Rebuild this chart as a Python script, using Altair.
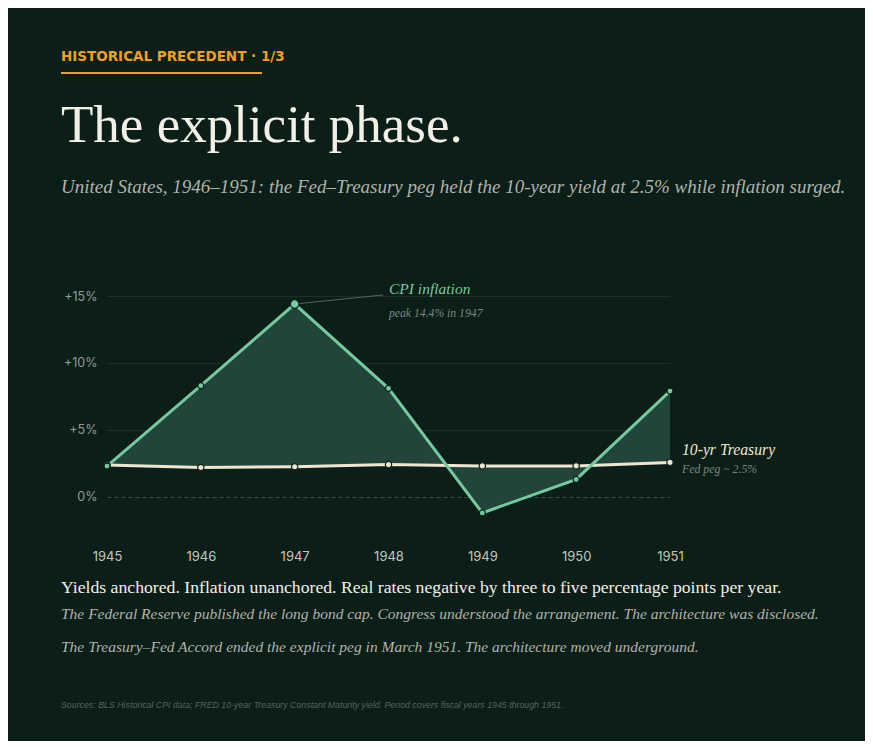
import pandas as pd
import altair as alt

# values (annual %, 1945-1951)
years = [1945, 1946, 1947, 1948, 1949, 1950, 1951]
cpi = [2.3, 8.3, 14.4, 8.1, -1.2, 1.3, 7.9]
treasury = [2.37, 2.19, 2.25, 2.41, 2.31, 2.31, 2.57]
y_ticks = [0, 5, 10, 15]

kicker = "HISTORICAL PRECEDENT · 1/3"
headline = "The explicit phase."
dek = "United States, 1946–1951: the Fed–Treasury peg held the 10-year yield at 2.5% while inflation surged."
cpi_label = ["CPI inflation", "peak 14.4% in 1947"]
tsy_label = ["10-yr Treasury", "Fed peg ~ 2.5%"]
notes = [
    "Yields anchored. Inflation unanchored. Real rates negative by three to five percentage points per year.",
    "The Federal Reserve published the long bond cap. Congress understood the arrangement. The architecture was disclosed.",
    "The Treasury–Fed Accord ended the explicit peg in March 1951. The architecture moved underground.",
]
source = ("Sources: BLS Historical CPI data; FRED 10-year Treasury Constant Maturity yield. "
          "Period covers fiscal years 1945 through 1951.")

BG = "#0b1e18"
GREEN = "#74c99e"
FILL = "#22443a"
CREAM = "#efe6d0"
SERIF = "Liberation Serif"
SANS = "Inter"

df = pd.DataFrame({"year": years, "cpi": cpi, "treasury": treasury})

x = alt.X("year:Q", scale=alt.Scale(domain=[1945, 1951], nice=False, zero=False),
          axis=alt.Axis(values=years, format="d", title=None, grid=False, ticks=False,
                        domain=False, labelFlush=False, labelBound=False, labelPadding=13,
                        labelFont=SANS, labelFontSize=13, labelColor="#c3c6bf"))
y_axis = alt.Axis(values=y_ticks, title=None, ticks=False, domain=False, labelPadding=10,
                  labelFont=SANS, labelFontSize=12.5, labelColor="#929c97",
                  labelExpr="datum.value > 0 ? '+' + datum.value + '%' : datum.value + '%'",
                  gridColor={"condition": {"test": "datum.value === 0", "value": "#3c4c46"},
                             "value": "#1c2f28"},
                  gridDash={"condition": {"test": "datum.value === 0", "value": [4, 3]},
                            "value": []})
y_scale = alt.Scale(domain=[-3, 15], nice=False, zero=False)

base = alt.Chart(df)

area = base.mark_area(color=FILL, opacity=1).encode(
    x=x, y=alt.Y("cpi:Q", scale=y_scale, axis=y_axis), y2="treasury:Q")
tsy_line = base.mark_line(color=CREAM, strokeWidth=3).encode(x="year:Q", y="treasury:Q")
cpi_line = base.mark_line(color=GREEN, strokeWidth=3).encode(x="year:Q", y="cpi:Q")
tsy_pts = base.mark_point(filled=True, color=CREAM, stroke=BG, strokeWidth=1.2,
                          size=40, opacity=1).encode(x="year:Q", y="treasury:Q")
cpi_pts = base.mark_point(filled=True, color=GREEN, stroke=BG, strokeWidth=1.2, opacity=1).encode(
    x="year:Q", y="cpi:Q",
    size=alt.condition("datum.cpi === 14.4", alt.value(75), alt.value(36)))

peak = base.transform_filter("datum.cpi === 14.4")
leader = peak.mark_rule(color="#56655f", strokeWidth=1).encode(
    x="year:Q", y="cpi:Q", x2=alt.value(276), y2=alt.value(-1))


def label(text, px, py, size, color, font=SERIF, style="normal", weight="normal", baseline="alphabetic"):
    return alt.Chart(pd.DataFrame({"t": [text]})).mark_text(
        align="left", baseline=baseline, font=font, fontSize=size, color=color,
        fontStyle=style, fontWeight=weight).encode(
        text="t:N", x=alt.value(px), y=alt.value(py))


texts = [
    label(kicker, -46, -239, 13.5, "#f0a020", font="DejaVu Sans", weight="bold", baseline="middle"),
    label(headline, -46, -154, 53, "#f2efe6"),
    label(dek, -46, -103, 19, "#b0b3ab", style="italic"),
    label(cpi_label[0], 282, -2, 15.5, GREEN, style="italic"),
    label(cpi_label[1], 282, 21, 11.7, "#7d8781", style="italic"),
    label(tsy_label[0], 575, 159, 15.7, CREAM, style="italic"),
    label(tsy_label[1], 575, 177, 11.8, "#7d8781", style="italic"),
    label(notes[0], -46, 297, 17.7, "#f2efe6"),
    label(notes[1], -46, 323, 15.5, "#b0b3ab", style="italic"),
    label(notes[2], -46, 356, 15.5, "#b0b3ab", style="italic"),
    label(source, -46, 412, 8.8, "#56655f", font="Liberation Sans", style="italic"),
]

underline = alt.Chart(pd.DataFrame({"k": [0]})).mark_rule(color="#f0a020", strokeWidth=2).encode(
    x=alt.value(-46), x2=alt.value(155), y=alt.value(-223))

chart = alt.layer(area, tsy_line, cpi_line, leader, tsy_pts, cpi_pts, underline, *texts).properties(
    width=563, height=241,
    background=BG,
    autosize=alt.AutoSizeParams(type="none"),
    padding={"left": 99, "top": 288, "right": 195, "bottom": 204},
).configure_view(stroke=None)

chart.save("out.html", embed_options={"renderer": "svg", "actions": False})
